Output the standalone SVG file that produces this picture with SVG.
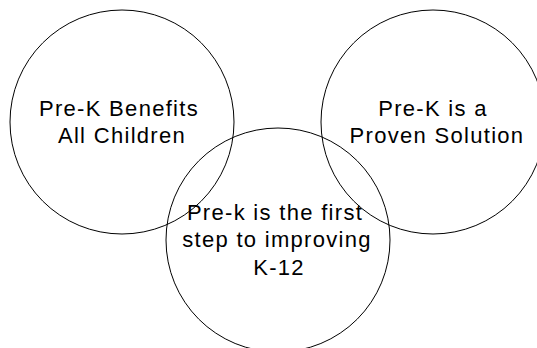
<svg xmlns="http://www.w3.org/2000/svg" width="537" height="348" viewBox="0 0 537 348">
<style>
.c{fill:none;stroke:#000;stroke-width:1}
.t{font-family:"Liberation Sans",Arial,sans-serif;font-size:22px;fill:#000;text-anchor:middle;letter-spacing:1.3px}
</style>
<rect width="537" height="348" fill="#fff"/>
<g id="node-left">
<circle class="c" cx="122" cy="122" r="112"/>
<text class="t" x="119" y="116">Pre-K Benefits</text>
<text class="t" x="122" y="143">All Children</text>
</g>
<g id="node-right">
<circle class="c" cx="433" cy="122" r="112"/>
<text class="t" x="433" y="116">Pre-K is a</text>
<text class="t" x="437" y="143">Proven Solution</text>
</g>
<g id="node-bottom">
<circle class="c" cx="278" cy="240" r="112"/>
<text class="t" x="275" y="220">Pre-k is the first</text>
<text class="t" x="277" y="247">step to improving</text>
<text class="t" x="279" y="275">K-12</text>
</g>
<g id="connectors"></g>
</svg>
